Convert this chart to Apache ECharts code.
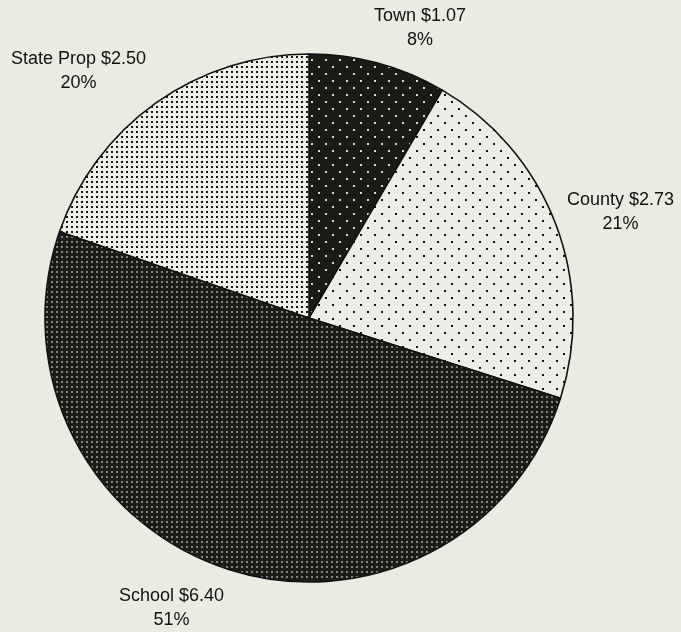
<!DOCTYPE html>
<html><head><meta charset="utf-8">
<script src="https://cdn.jsdelivr.net/npm/echarts@6/dist/echarts.min.js"></script>
<style>html,body{margin:0;padding:0;background:#ecebe1;} #c{width:681px;height:632px;}</style>
</head><body><div id="c"></div>
<script>
// ---- data ----
const categories = ['Town', 'County', 'School', 'State Prop'];
const amounts = [1.07, 2.73, 6.40, 2.50];
const percentLabels = [8, 21, 51, 20];

// ---- styles ----
function pattern(size, bg, fg, dots, dotSize) {
  const c = document.createElement('canvas');
  c.width = size; c.height = size;
  const g = c.getContext('2d');
  g.fillStyle = bg; g.fillRect(0, 0, size, size);
  g.fillStyle = fg;
  dots.forEach(d => g.fillRect(d[0], d[1], dotSize, dotSize));
  return { image: c, repeat: 'repeat' };
}
const fills = [
  pattern(14, '#1b1a15', '#d8d8d0', [[3, 3], [10, 10]], 2),   // Town
  pattern(14, '#eeede5', '#111111', [[3, 3], [10, 10]], 2),   // County
  pattern(5, '#1c1b17', '#85857c', [[1, 1]], 2),              // School
  pattern(5, '#f0efe8', '#151515', [[1, 1]], 2)               // State Prop
];
// label line lengths (positioning of outside labels)
const labelGeom = [[36.5, -13.6], [32, -18.4], [42.2, -11.8], [38.5, -12.4]];

const chart = echarts.init(document.getElementById('c'), null, { renderer: 'canvas' });
chart.setOption({
  backgroundColor: '#ecebe1',
  animation: false,
  series: [{
    type: 'pie',
    center: [309, 318],
    radius: 264,
    startAngle: 90,
    clockwise: true,
    avoidLabelOverlap: false,
    emphasis: { disabled: true },
    itemStyle: { borderColor: '#111', borderWidth: 1.6 },
    label: {
      show: true,
      position: 'outside',
      bleedMargin: 0,
      distanceToLabelLine: 0,
      formatter: function (p) {
        return '{a|' + p.name + ' $' + amounts[p.dataIndex].toFixed(2) + '}\n{a|' + percentLabels[p.dataIndex] + '%}';
      },
      rich: {
        a: { fontFamily: 'Liberation Sans, Arial, sans-serif', fontSize: 18, color: '#111111', lineHeight: 24, align: 'center' }
      }
    },
    labelLine: { show: false },
    data: categories.map((name, i) => ({
      name: name,
      value: amounts[i],
      itemStyle: { color: fills[i] },
      labelLine: { show: false, length: labelGeom[i][0], length2: labelGeom[i][1] }
    }))
  }]
});
</script>
</body></html>
